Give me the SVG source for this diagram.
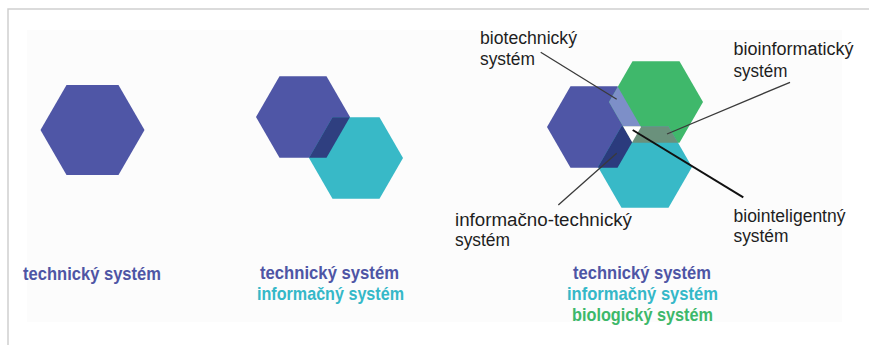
<svg xmlns="http://www.w3.org/2000/svg" width="869" height="345" viewBox="0 0 869 345">
  <defs>
    <style>
      .frame { fill: none; stroke: #cfcfcf; stroke-width: 1.5; }
      .tech { fill: #4f56a6; }
      .info { fill: #38b9c7; }
      .bio { fill: #3fb86b; }
      .cap { font-family: "Liberation Sans", Arial, sans-serif; font-weight: bold; font-size: 19px; text-anchor: middle; }
      .cap.t { fill: #4e55a5; }
      .cap.i { fill: #35b8c8; }
      .cap.b { fill: #3db86a; }
      .lbl { font-family: "Liberation Sans", Arial, sans-serif; font-size: 18px; fill: #1e1e1e; }
      .lead { stroke: #3a3a3a; stroke-width: 1.3; fill: none; }
      .lead.strong { stroke: #111; stroke-width: 2; }
    </style>
    <!-- hexagon outlines reused for clipping the overlap areas -->
    <polygon id="hx2a" points="256,117 279.5,76.3 326.5,76.3 350,117 326.5,157.7 279.5,157.7"/>
    <polygon id="hx2b" points="309,158 332.5,117.3 379.5,117.3 403,158 379.5,198.7 332.5,198.7"/>
    <polygon id="hx3t" points="547,127 570.5,86.3 617.5,86.3 641,127 617.5,167.7 570.5,167.7"/>
    <polygon id="hx3b" points="609,102 632.5,61.3 679.5,61.3 703,102 679.5,142.7 632.5,142.7"/>
    <polygon id="hx3i" points="598,167 621.5,126.3 668.5,126.3 692,167 668.5,207.7 621.5,207.7"/>
    <clipPath id="clip2b"><use href="#hx2b"/></clipPath>
    <clipPath id="clip3b"><use href="#hx3b"/></clipPath>
    <clipPath id="clip3i"><use href="#hx3i"/></clipPath>
  </defs>

  <rect width="869" height="345" fill="#ffffff"/>
  <rect x="27" y="30" width="815" height="292" fill="#fcfcfc"/>
  <!-- frame: top and left rule -->
  <path class="frame" d="M8,345 V9 H869"/>

  <!-- panel 1 -->
  <g id="panel1">
    <g id="tech1">
      <polygon class="tech" points="40.5,130 66.5,85 118.5,85 144.5,130 118.5,175 66.5,175"/>
    </g>
    <text class="cap t" x="92" y="280" textLength="138" lengthAdjust="spacingAndGlyphs">technický systém</text>
  </g>

  <!-- panel 2 -->
  <g id="panel2">
    <g id="tech2"><use href="#hx2a" class="tech"/></g>
    <g id="info2"><use href="#hx2b" class="info"/></g>
    <g id="tech-info2"><use href="#hx2a" fill="#2f3f80" clip-path="url(#clip2b)"/></g>
    <text class="cap t" x="329.5" y="279" textLength="139" lengthAdjust="spacingAndGlyphs">technický systém</text>
    <text class="cap i" x="330.5" y="299.5" textLength="147" lengthAdjust="spacingAndGlyphs">informačný systém</text>
  </g>

  <!-- panel 3 -->
  <g id="panel3">
    <g id="tech3"><use href="#hx3t" class="tech"/></g>
    <g id="bio3"><use href="#hx3b" class="bio"/></g>
    <g id="info3"><use href="#hx3i" class="info"/></g>
    <g id="biotech"><use href="#hx3t" fill="#7d8fc8" clip-path="url(#clip3b)"/></g>
    <g id="infotech"><use href="#hx3t" fill="#2b3b7d" clip-path="url(#clip3i)"/></g>
    <g id="bioinfo"><use href="#hx3b" fill="#6a917c" clip-path="url(#clip3i)"/></g>
    <g id="biointel">
      <g clip-path="url(#clip3i)"><use href="#hx3t" fill="#ffffff" clip-path="url(#clip3b)"/></g>
    </g>
    <text class="cap t" x="642" y="279" textLength="138" lengthAdjust="spacingAndGlyphs">technický systém</text>
    <text class="cap i" x="642.5" y="300" textLength="151" lengthAdjust="spacingAndGlyphs">informačný systém</text>
    <text class="cap b" x="642.5" y="321" textLength="141" lengthAdjust="spacingAndGlyphs">biologický systém</text>
  </g>

  <!-- leader lines -->
  <g id="connectors">
    <line class="lead" x1="540.7" y1="52.3" x2="616.7" y2="99.3"/>
    <line class="lead" x1="790" y1="82.3" x2="667" y2="134"/>
    <line class="lead" x1="558.3" y1="205" x2="616.7" y2="153.3"/>
    <line class="lead strong" x1="632.7" y1="130" x2="743.3" y2="197.3"/>
  </g>

  <!-- annotation labels -->
  <g id="label-biotech">
    <text class="lbl" x="480" y="43.5" textLength="97" lengthAdjust="spacingAndGlyphs">biotechnický</text>
    <text class="lbl" x="480" y="64.5" textLength="55" lengthAdjust="spacingAndGlyphs">systém</text>
  </g>
  <g id="label-bioinfo">
    <text class="lbl" x="733.5" y="55" textLength="120" lengthAdjust="spacingAndGlyphs">bioinformatický</text>
    <text class="lbl" x="733.5" y="76.5" textLength="54" lengthAdjust="spacingAndGlyphs">systém</text>
  </g>
  <g id="label-infotech">
    <text class="lbl" x="455" y="226" textLength="177" lengthAdjust="spacingAndGlyphs">informačno-technický</text>
    <text class="lbl" x="455" y="246" textLength="55" lengthAdjust="spacingAndGlyphs">systém</text>
  </g>
  <g id="label-biointel">
    <text class="lbl" x="733.5" y="222" textLength="112" lengthAdjust="spacingAndGlyphs">biointeligentný</text>
    <text class="lbl" x="733.5" y="242" textLength="55" lengthAdjust="spacingAndGlyphs">systém</text>
  </g>
</svg>
